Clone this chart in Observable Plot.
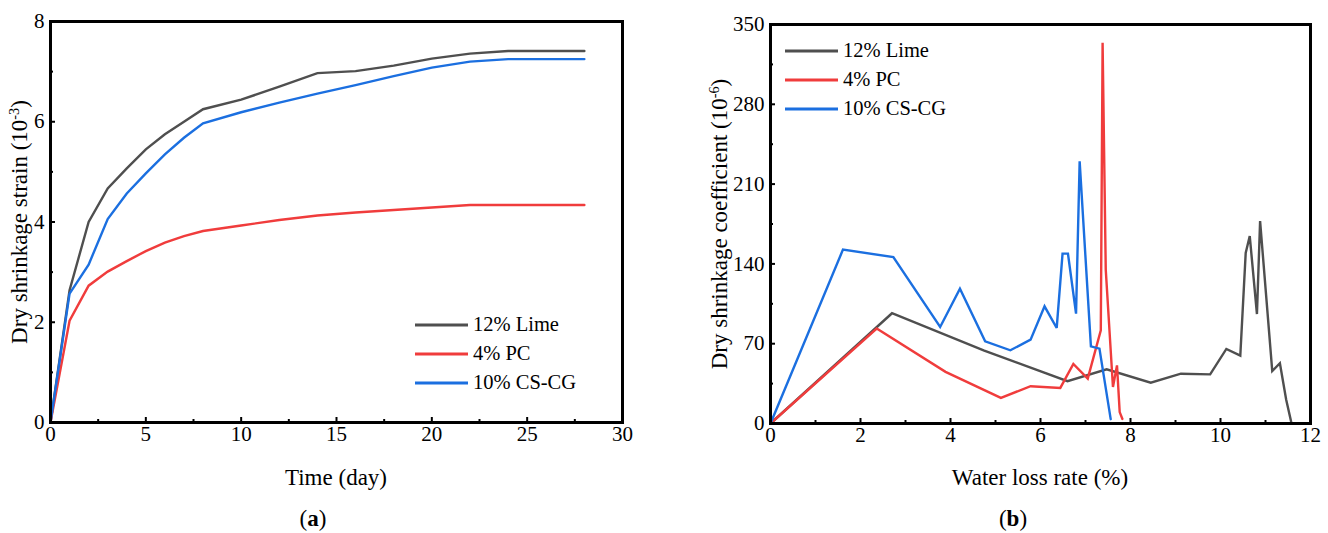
<!DOCTYPE html>
<html><head><meta charset="utf-8">
<script src="https://cdn.jsdelivr.net/npm/d3@7"></script>
<script src="https://cdn.jsdelivr.net/npm/@observablehq/plot@0.6"></script>
<style>
body{margin:0;background:#fff;font-family:"Liberation Serif","Times New Roman","DejaVu Serif",serif;}
#fig{position:relative;width:1328px;height:533px;overflow:hidden;background:#fff}
.panel{position:absolute;top:0;width:664px;height:533px}
.abs{position:absolute;white-space:nowrap;color:#000;line-height:1}
.ctr{transform:translate(-50%,-50%)}
.rot{transform:translate(-50%,-50%) rotate(-90deg)}
sup{font-size:0.62em;vertical-align:0.55em;line-height:0}
</style></head>
<body><div id="fig"></div>
<script>
// ---------- series ----------
const seriesNames = ["12% Lime", "4% PC", "10% CS-CG"];
const seriesColors = ["#4f4f4f", "#f03c3c", "#1b6fe0"];

// ---------- panel (a): dry shrinkage strain vs time ----------
const days = [0, 1, 2, 3, 4, 5, 6, 7, 8, 10, 12, 14, 16, 18, 20, 22, 24, 28];
const strainLime = [0, 2.64, 4.0, 4.67, 5.07, 5.45, 5.75, 6.0, 6.25, 6.44, 6.70, 6.97, 7.01, 7.12, 7.26, 7.36, 7.41, 7.41];
const strainPC   = [0, 2.03, 2.73, 3.01, 3.22, 3.42, 3.59, 3.72, 3.82, 3.93, 4.04, 4.13, 4.19, 4.24, 4.29, 4.34, 4.34, 4.34];
const strainCS   = [0, 2.57, 3.15, 4.06, 4.57, 4.97, 5.35, 5.68, 5.97, 6.19, 6.38, 6.56, 6.73, 6.91, 7.08, 7.20, 7.25, 7.25];
const xTicksA = [0, 5, 10, 15, 20, 25, 30];
const xMinorA = [2.5, 7.5, 12.5, 17.5, 22.5, 27.5];
const yTicksA = [0, 2, 4, 6, 8];
const yMinorA = [1, 3, 5, 7];

// ---------- panel (b): dry shrinkage coefficient vs water loss rate ----------
const wlLime = [0, 2.70, 4.75, 6.60, 7.47, 8.45, 9.12, 9.77, 10.13, 10.44, 10.56, 10.65, 10.81, 10.88, 11.15, 11.32, 11.46, 11.57];
const coefLime = [0, 96.7, 64, 37.1, 47.6, 35.8, 43.7, 43.1, 65.4, 59.5, 149.6, 164.4, 96, 177.5, 46, 52.9, 20.8, 1.5];
const wlPC = [0, 2.36, 3.89, 5.12, 5.78, 6.44, 6.73, 7.05, 7.34, 7.38, 7.45, 7.61, 7.70, 7.76, 7.82];
const coefPC = [0, 83.3, 45.3, 22.5, 32.7, 31.2, 52.3, 39.4, 81.8, 334, 135, 32, 51, 10, 4];
const wlCS = [0, 1.61, 2.73, 3.77, 4.21, 4.77, 5.33, 5.78, 6.09, 6.36, 6.49, 6.61, 6.79, 6.87, 7.12, 7.31, 7.56];
const coefCS = [0, 152.5, 146, 84.7, 118.3, 72.1, 64.2, 73.6, 102.8, 83.8, 149, 149, 96.4, 230, 67.7, 65.7, 3.8];
const xTicksB = [0, 2, 4, 6, 8, 10, 12];
const xMinorB = [1, 3, 5, 7, 9, 11];
const yTicksB = [0, 70, 140, 210, 280, 350];
const yMinorB = [35, 105, 175, 245, 315];

// ---------- build tidy tables ----------
function tidy(xs, ys, name) { return xs.map((x, i) => ({x, y: ys[i], series: name})); }
const dataA = [
  ...tidy(days, strainLime, seriesNames[0]),
  ...tidy(days, strainPC, seriesNames[1]),
  ...tidy(days, strainCS, seriesNames[2])
];
const dataB = [
  ...tidy(wlLime, coefLime, seriesNames[0]),
  ...tidy(wlPC, coefPC, seriesNames[1]),
  ...tidy(wlCS, coefCS, seriesNames[2])
];

const FONT = "'Liberation Serif', 'Times New Roman', 'DejaVu Serif', serif";

function panelPlot(data, cfg) {
  return Plot.plot({
    width: 664, height: 500,
    marginLeft: cfg.ml, marginRight: cfg.mr, marginTop: cfg.mt, marginBottom: cfg.mb,
    style: {fontFamily: FONT, fontSize: "21px", color: "#000", background: "transparent", overflow: "visible"},
    x: {domain: cfg.xd},
    y: {domain: cfg.yd},
    color: {domain: seriesNames, range: seriesColors},
    marks: [
      Plot.line(data, {x: "x", y: "y", z: "series", stroke: "series", strokeWidth: 2.4, strokeLinejoin: "miter", strokeMiterlimit: 3}),
      Plot.axisX({ticks: cfg.xt, tickSize: 0, tickPadding: 4, fontSize: 21, fontFamily: FONT, label: null}),
      Plot.axisX({ticks: cfg.xt, tickSize: 5, dy: -5, text: null, label: null, strokeWidth: 2}),
      Plot.axisX({ticks: cfg.xm, tickSize: 3, dy: -3, text: null, label: null, strokeWidth: 2}),
      Plot.axisY({ticks: cfg.yt, tickSize: 0, tickPadding: 6, fontSize: 21, fontFamily: FONT, label: null}),
      Plot.axisY({ticks: cfg.yt, tickSize: 5, dx: 5, text: null, label: null, strokeWidth: 2}),
      Plot.axisY({ticks: cfg.ym, tickSize: 3, dx: 3, text: null, label: null, strokeWidth: 2}),
      Plot.frame({stroke: "#000", strokeWidth: 3})
    ]
  });
}

const fig = document.getElementById("fig");
function addPanel(left, plot, texts, legend) {
  const p = document.createElement("div");
  p.className = "panel"; p.style.left = left + "px";
  p.appendChild(plot);
  plot.style.position = "absolute"; plot.style.left = "0px"; plot.style.top = "0px";
  for (const t of texts) {
    const d = document.createElement("div");
    d.className = "abs " + (t.rot ? "rot" : "ctr");
    d.style.left = t.cx + "px"; d.style.top = t.cy + "px"; d.style.fontSize = t.fs + "px";
    d.innerHTML = t.html;
    p.appendChild(d);
  }
  // legend
  const lg = document.createElement("div");
  lg.className = "abs"; lg.style.left = legend.x + "px"; lg.style.top = legend.y + "px";
  seriesNames.forEach((name, i) => {
    const row = document.createElement("div");
    row.style.cssText = `display:flex;align-items:center;height:${legend.gap}px;font-size:20.5px;`;
    row.innerHTML = `<svg width="53" height="6" style="margin-right:5px"><line x1="0" x2="53" y1="3" y2="3" stroke="${seriesColors[i]}" stroke-width="3"/></svg><span>${name}</span>`;
    lg.appendChild(row);
  });
  p.appendChild(lg);
  fig.appendChild(p);
}

const plotA = panelPlot(dataA, {ml: 50, mr: 42, mt: 21, mb: 78, xd: [0, 30], yd: [0, 8], xt: xTicksA, xm: xMinorA, yt: yTicksA, ym: yMinorA});
const plotB = panelPlot(dataB, {ml: 106, mr: 18, mt: 24, mb: 77, xd: [0, 12], yd: [0, 350], xt: xTicksB, xm: xMinorB, yt: yTicksB, ym: yMinorB});

addPanel(0, plotA, [
  {cx: 19, cy: 222, fs: 23, rot: true, html: "Dry shrinkage strain (10<sup>-3</sup>)"},
  {cx: 336, cy: 477, fs: 23, html: "Time (day)"},
  {cx: 313, cy: 518, fs: 23, html: "(<b>a</b>)"}
], {x: 415, y: 310, gap: 29});

addPanel(664, plotB, [
  {cx: 719 - 664, cy: 224, fs: 23, rot: true, html: "Dry shrinkage coefficient (10<sup>-6</sup>)"},
  {cx: 1040 - 664, cy: 477, fs: 23, html: "Water loss rate (%)"},
  {cx: 1013 - 664, cy: 518, fs: 23, html: "(<b>b</b>)"}
], {x: 785 - 664, y: 36, gap: 29});
</script>
</body></html>
